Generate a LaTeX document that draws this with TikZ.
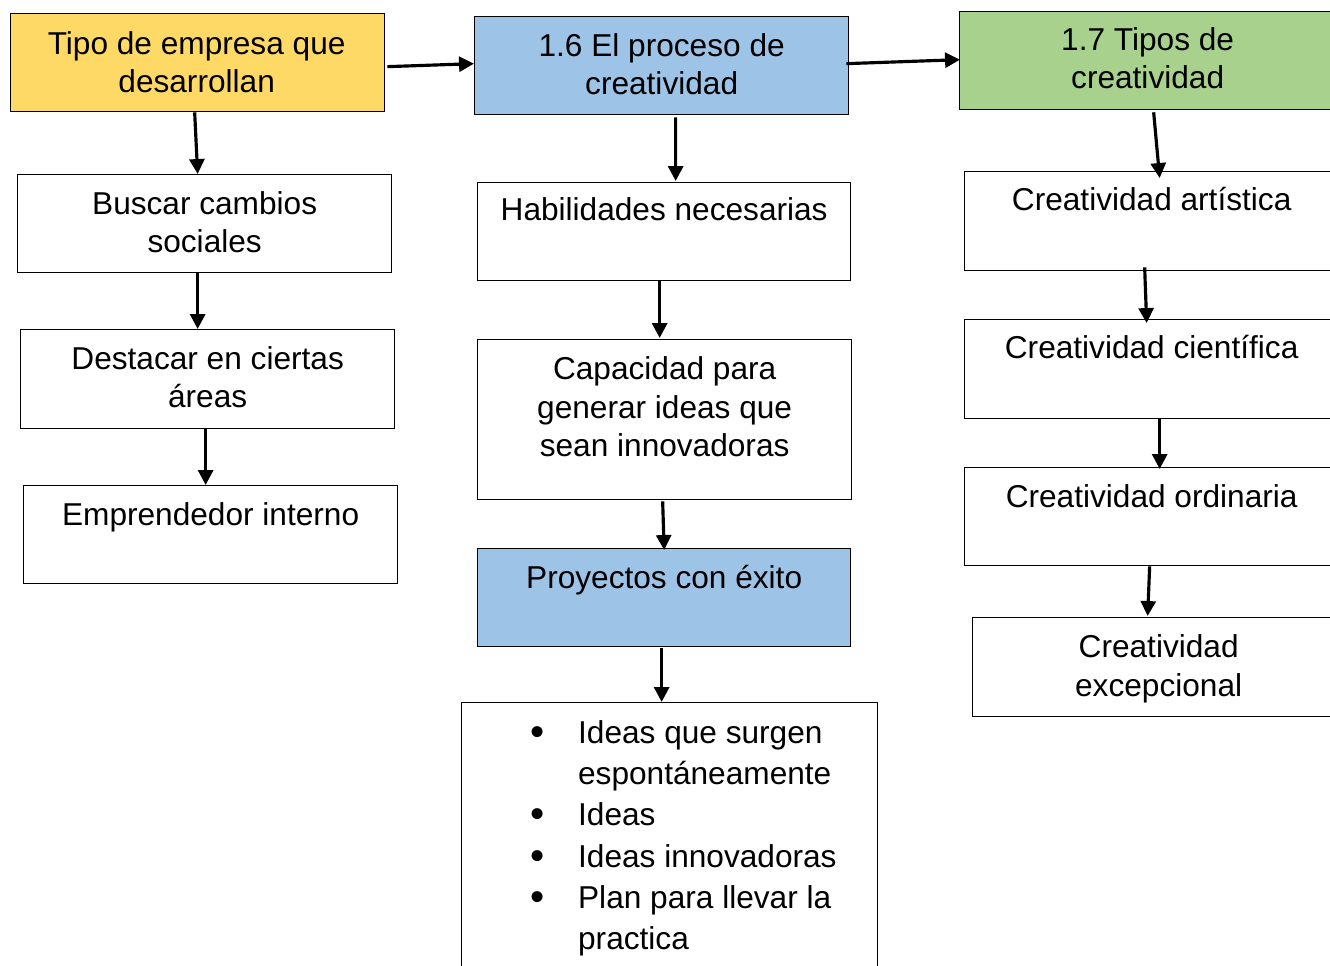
\documentclass[tikz,border=0pt]{standalone}
\usepackage{fontspec}
\setmainfont{Liberation Sans}
\usetikzlibrary{arrows.meta,calc}
\newlength\px \setlength\px{0.02cm}
\definecolor{cyellow}{HTML}{FFD966}
\definecolor{cblue}{HTML}{9DC3E6}
\definecolor{cgreen}{HTML}{A9D18E}
\newcommand\bigbul{{\fontsize{23}{0}\selectfont\raisebox{-1.2pt}{\textbullet}}}
\tikzset{
 box/.style={draw=black, line width=0.75pt, inner sep=0pt, anchor=north west, minimum width=374\px, minimum height=98\px},
 txt/.style={anchor=base, align=center, inner sep=0pt, font=\fontsize{18}{22.1}\selectfont},
 arr/.style={line width=1.8pt, -{Triangle[length=8.5pt,width=8.5pt]}},
}
\begin{document}
\begin{tikzpicture}[x=0.02cm,y=-0.02cm]
\useasboundingbox (0,0) rectangle (1330,966);
\clip (0,0) rectangle (1330,966);
% boxes
\node[box, fill=cyellow] (b1) at (10,13) {};
\node[box, fill=cblue] (b2) at (474,16) {};
\node[box, fill=cgreen] (b3) at (959,11) {};
\node[box] (b4) at (17,174) {};
\node[box, minimum height=99\px] (b5) at (20,329) {};
\node[box] (b6) at (23,485) {};
\node[box, minimum width=373\px] (b7) at (477,182) {};
\node[box, minimum height=160\px] (b8) at (477,339) {};
\node[box, fill=cblue, minimum width=373\px] (b9) at (477,548) {};
\node[box, minimum width=416\px, minimum height=300\px] (b10) at (461,702) {};
\node[box, minimum width=372\px, minimum height=99\px] (b11) at (964,171) {};
\node[box, minimum width=372\px, minimum height=99\px] (b12) at (964,319) {};
\node[box, minimum width=372\px] (b13) at (964,467) {};
\node[box, minimum width=372\px, minimum height=99\px] (b14) at (972,617) {};
% texts (anchor = baseline of the last line)
\node[txt] (t1) at ($(b1.north)+(-1,80)$) {Tipo de empresa que\\desarrollan};
\node[txt] (t2) at ($(b2.north)+(0,79)$) {1.6 El proceso de\\creatividad};
\node[txt] (t3) at ($(b3.north)+(1,78)$) {1.7 Tipos de\\creatividad};
\node[txt] (t4) at ($(b4.north)+(0,79)$) {Buscar cambios\\sociales};
\node[txt] (t5) at ($(b5.north)+(0,79)$) {Destacar en ciertas\\áreas};
\node[txt] (t6) at ($(b6.north)+(0,40)$) {Emprendedor interno};
\node[txt] (t7) at ($(b7.north)+(0,39)$) {Habilidades necesarias};
\node[txt] (t8) at ($(b8.north)+(0,118)$) {Capacidad para\\generar ideas que\\sean innovadoras};
\node[txt] (t9) at ($(b9.north)+(0,40)$) {Proyectos con éxito};
\node[txt] (t11) at ($(b11.north)+(1,40)$) {Creatividad artística};
\node[txt] (t12) at ($(b12.north)+(1,40)$) {Creatividad científica};
\node[txt] (t13) at ($(b13.north)+(1,40)$) {Creatividad ordinaria};
\node[txt] (t14) at ($(b14.north)+(0,79)$) {Creatividad\\excepcional};
\node[anchor=north west, inner sep=0pt, font=\fontsize{18}{23.5}\selectfont] (t10) at ($(b10.north west)+(69,12)$)
 {\begin{tabular}{@{}p{27.2pt}@{}l@{}}
 \bigbul & Ideas que surgen\\
 & espontáneamente\\
 \bigbul & Ideas\\
 \bigbul & Ideas innovadoras\\
 \bigbul & Plan para llevar la\\
 & practica
 \end{tabular}};
% arrows
\draw[arr] ($(b1.east)+(2,4)$) -- ($(b2.west)+(0,-2)$);
\draw[arr] ($(b2.east)+(-3,-2)$) -- ($(b3.west)+(1,-1)$);
\draw[arr] ($(b1.south)+(-3,0)$) -- ($(b4.north)+(-7,0)$);
\draw[arr] ($(b4.south)+(-7,0)$) -- ($(b5.north)+(-10,0)$);
\draw[arr] ($(b5.south)+(-2,0)$) -- ($(b6.north)+(-5,0)$);
\draw[arr] ($(b2.south)+(14,2)$) -- ($(b7.north)+(11.5,-1)$);
\draw[arr] ($(b7.south)+(-4.5,0)$) -- ($(b8.north)+(-5,-1)$);
\draw[arr] ($(b8.south)+(-2,1)$) -- ($(b9.north)+(0,2)$);
\draw[arr] ($(b9.south)+(-2.5,1)$) -- ($(b10.north)+(-8,0)$);
\draw[arr] ($(b3.south)+(7,2)$) -- ($(b11.north)+(9,7)$);
\draw[arr] ($(b11.south)+(-6,-4)$) -- ($(b12.north)+(-4,4)$);
\draw[arr] ($(b12.south)+(9,0)$) -- ($(b13.north)+(9,2)$);
\draw[arr] ($(b13.south)+(-1,0)$) -- ($(b14.north)+(-11,-1)$);
\end{tikzpicture}
\end{document}
